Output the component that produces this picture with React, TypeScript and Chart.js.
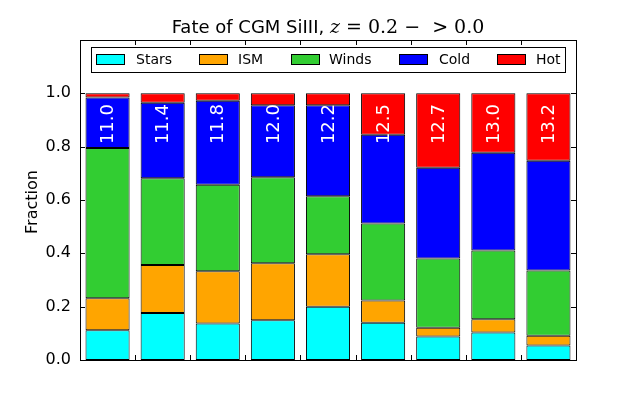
import { useEffect, useRef } from "react";
import { Chart, registerables } from "chart.js";

Chart.register(...registerables);

const categories = ["11.0", "11.4", "11.8", "12.0", "12.2", "12.5", "12.7", "13.0", "13.2"];
const stars = [0.112, 0.176, 0.137, 0.149, 0.2, 0.14, 0.088, 0.103, 0.054];
const ism = [0.12, 0.18, 0.196, 0.214, 0.197, 0.083, 0.033, 0.05, 0.037];
const winds = [0.563, 0.326, 0.324, 0.322, 0.217, 0.289, 0.26, 0.258, 0.245];
const cold = [0.189, 0.283, 0.315, 0.27, 0.341, 0.333, 0.34, 0.366, 0.411];
const hot = [0.016, 0.035, 0.028, 0.045, 0.045, 0.155, 0.279, 0.223, 0.253];
const yTicks = [0, 0.2, 0.4, 0.6, 0.8, 1.0, 1.2];

const SANS = '"DejaVu Sans", sans-serif';
const SERIF = '"DejaVu Serif", serif';

const series = [
  { label: "Stars", data: stars, color: "#00ffff" },
  { label: "ISM", data: ism, color: "#ffa500" },
  { label: "Winds", data: winds, color: "#32cd32" },
  { label: "Cold", data: cold, color: "#0000ff" },
  { label: "Hot", data: hot, color: "#ff0000" },
];

// legend item x positions (swatch left, text left)
const legendItems = [
  [96, 136],
  [199, 238],
  [291, 329],
  [399, 439],
  [497, 536],
];

const decorations = {
  id: "decorations",
  afterDraw(chart: any) {
    const { ctx, chartArea: a, scales } = chart;
    const xs = scales.x;
    const ys = scales.y;
    ctx.save();

    // bar labels
    ctx.fillStyle = "#ffffff";
    ctx.font = "18px " + SANS;
    categories.forEach((c, i) => {
      ctx.save();
      ctx.translate(xs.getPixelForValue(i), ys.getPixelForValue(0.96));
      ctx.rotate(-Math.PI / 2);
      ctx.textAlign = "right";
      ctx.textBaseline = "middle";
      ctx.fillText(c, 0, 1);
      ctx.restore();
    });

    // ticks, inward, on all sides
    ctx.strokeStyle = "#000";
    ctx.lineWidth = 1;
    ctx.beginPath();
    yTicks.forEach((v) => {
      const y = Math.round(ys.getPixelForValue(v)) + 0.5;
      ctx.moveTo(a.left, y);
      ctx.lineTo(a.left + 5, y);
      ctx.moveTo(a.right, y);
      ctx.lineTo(a.right - 5, y);
    });
    for (let i = 0; i < categories.length - 1; i++) {
      const x = Math.round((xs.getPixelForValue(i) + xs.getPixelForValue(i + 1)) / 2) + 0.5;
      ctx.moveTo(x, a.bottom);
      ctx.lineTo(x, a.bottom - 5);
      ctx.moveTo(x, a.top);
      ctx.lineTo(x, a.top + 5);
    }
    ctx.stroke();

    // axes box
    ctx.strokeRect(Math.round(a.left) + 0.5, Math.round(a.top) + 0.5, Math.round(a.right - a.left), Math.round(a.bottom - a.top));

    // legend
    ctx.fillStyle = "#fff";
    ctx.fillRect(91.5, 47.5, 474, 25);
    ctx.strokeRect(91.5, 47.5, 474, 25);
    ctx.font = "14px " + SANS;
    ctx.textBaseline = "middle";
    ctx.textAlign = "left";
    series.forEach((s, i) => {
      const [sx, tx] = legendItems[i];
      ctx.fillStyle = s.color;
      ctx.fillRect(sx + 0.5, 54.5, 28, 10);
      ctx.strokeRect(sx + 0.5, 54.5, 28, 10);
      ctx.fillStyle = "#000";
      ctx.fillText(s.label, tx, 60);
    });

    // y axis title
    ctx.save();
    ctx.translate(33, 202);
    ctx.rotate(-Math.PI / 2);
    ctx.textAlign = "center";
    ctx.textBaseline = "middle";
    ctx.font = "16px " + SANS;
    ctx.fillText("Fraction", 0, 0);
    ctx.restore();

    // title with math part
    const parts: [string, string][] = [
      ["Fate of CGM SiIII, ", "18px " + SANS],
      ["z", "italic 19px " + SERIF],
      [" = ", "19px " + SERIF],
      ["0.2", "19px " + SERIF],
      [" \u2212 ", "19px " + SERIF],
      [" > ", "19px " + SERIF],
      ["0.0", "19px " + SERIF],
    ];
    let total = 0;
    const widths = parts.map(([t, f]) => {
      ctx.font = f;
      const w = ctx.measureText(t).width;
      total += w;
      return w;
    });
    let x = 328 - total / 2;
    ctx.fillStyle = "#000";
    ctx.textAlign = "left";
    ctx.textBaseline = "alphabetic";
    parts.forEach(([t, f], i) => {
      ctx.font = f;
      ctx.fillText(t, x, 33);
      x += widths[i];
    });

    ctx.restore();
  },
};

export default function App() {
  const ref = useRef<HTMLCanvasElement>(null);

  useEffect(() => {
    if (!ref.current) return;
    const chart = new Chart(ref.current, {
      type: "bar",
      data: {
        labels: categories,
        datasets: series.map((s) => ({
          label: s.label,
          data: s.data,
          backgroundColor: s.color,
          borderColor: "#000",
          borderWidth: 1,
          borderSkipped: false,
          categoryPercentage: 1,
          barPercentage: 0.8,
        })),
      },
      options: {
        responsive: true,
        maintainAspectRatio: false,
        animation: false,
        layout: { padding: { top: 40, right: 64, left: 0, bottom: 0 } },
        plugins: {
          legend: { display: false },
          title: { display: false },
          tooltip: { enabled: false },
        },
        scales: {
          x: {
            stacked: true,
            grid: { display: false },
            border: { display: false },
            ticks: { display: false },
            afterFit: (s: any) => {
              s.height = 40;
            },
          },
          y: {
            stacked: true,
            min: 0,
            max: 1.2,
            grid: { display: false, drawTicks: false },
            border: { display: false },
            afterBuildTicks: (s: any) => {
              s.ticks = yTicks.map((v) => ({ value: v }));
            },
            ticks: {
              padding: 9,
              color: "#000",
              font: { family: SANS, size: 16 },
              callback: (v: any) => (Number(v) > 1.1 ? "" : Number(v).toFixed(1)),
            },
            afterFit: (s: any) => {
              s.width = 80;
            },
          },
        },
      },
      plugins: [decorations],
    });
    return () => chart.destroy();
  }, []);

  return (
    <div style={{ position: "absolute", left: 0, top: 0, width: 640, height: 400, background: "#fff" }}>
      <canvas ref={ref} role="img" aria-label="Fate of CGM SiIII stacked fractions" />
    </div>
  );
}
